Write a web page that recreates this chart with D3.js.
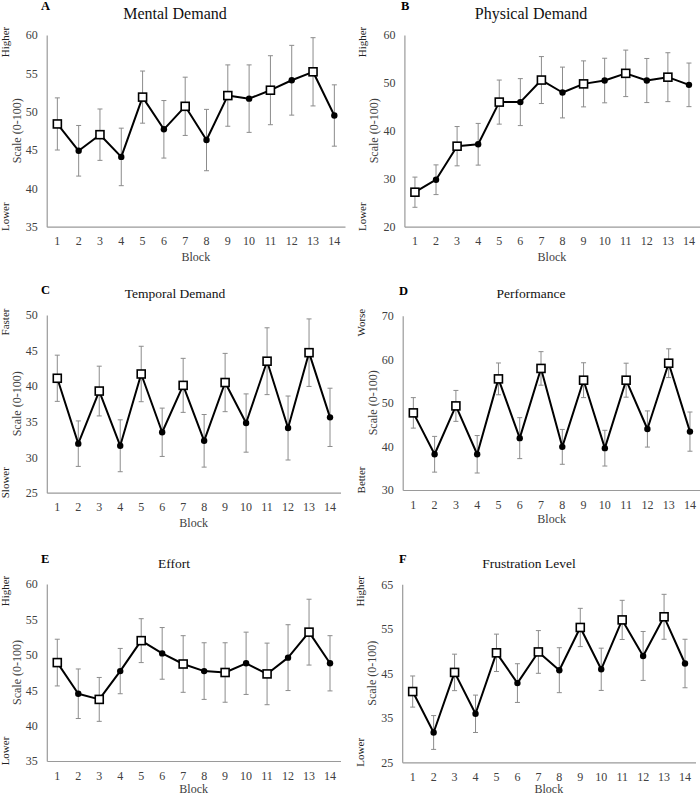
<!DOCTYPE html>
<html>
<head>
<meta charset="utf-8">
<script src="https://cdn.jsdelivr.net/npm/d3@7"></script>
<style>
  html, body { margin: 0; padding: 0; background: #fff; }
  svg { display: block; font-family: "Liberation Serif", "Times New Roman", serif; }
</style>
</head>
<body>
<svg id="chart" width="700" height="797"></svg>
<script>
// ---------- data ----------
const blocks = ["1","2","3","4","5","6","7","8","9","10","11","12","13","14"];

const mentalMean   = [48.4, 44.9, 47.0, 44.1, 51.9, 47.7, 50.7, 46.3, 52.1, 51.7, 52.8, 54.1, 55.2, 49.5];
const mentalErr    = [3.4, 3.3, 3.35, 3.75, 3.4, 3.75, 3.8, 4.0, 4.0, 4.4, 4.5, 4.55, 4.45, 4.0];

const physicalMean = [27.2, 29.8, 36.8, 37.2, 46.0, 46.0, 50.6, 48.0, 49.8, 50.5, 52.0, 50.5, 51.2, 49.6];
const physicalErr  = [3.15, 3.1, 4.1, 4.35, 4.6, 4.9, 4.9, 5.3, 4.8, 4.65, 4.85, 4.6, 5.1, 4.55];

const temporalMean = [41.1, 31.9, 39.3, 31.6, 41.7, 33.5, 40.1, 32.3, 40.5, 34.8, 43.5, 34.1, 44.7, 35.6];
const temporalErr  = [3.25, 3.2, 3.5, 3.65, 3.9, 3.4, 3.8, 3.7, 4.1, 4.1, 4.7, 4.5, 4.75, 4.1];

const performanceMean = [47.7, 38.2, 49.3, 38.2, 55.5, 41.9, 57.9, 39.9, 55.2, 39.6, 55.2, 44.0, 59.1, 43.4];
const performanceErr  = [3.5, 4.1, 3.55, 4.3, 3.65, 4.7, 3.85, 4.0, 4.0, 4.1, 3.9, 4.15, 3.3, 4.5];

const effortMean = [48.9, 44.5, 43.7, 47.7, 52.0, 50.2, 48.7, 47.7, 47.5, 48.8, 47.3, 49.6, 53.2, 48.8];
const effortErr  = [3.3, 3.5, 3.1, 3.2, 3.1, 3.65, 4.0, 4.0, 4.2, 4.4, 4.35, 4.65, 4.65, 3.9];

const frustrationMean = [40.9, 31.7, 45.2, 35.9, 49.6, 42.8, 49.8, 45.7, 55.3, 45.9, 57.0, 48.9, 57.7, 47.2];
const frustrationErr  = [3.5, 3.8, 4.1, 4.2, 4.2, 4.35, 4.8, 5.05, 4.3, 4.75, 4.4, 5.5, 5.05, 5.45];

// odd blocks drawn as open squares, even blocks as filled dots
const markerType = ["square","dot","square","dot","square","dot","square","dot","square","dot","square","dot","square","dot"];

const mentalTicks = [35, 40, 45, 50, 55, 60];
const physicalTicks = [20, 30, 40, 50, 60];
const temporalTicks = [25, 30, 35, 40, 45, 50];
const performanceTicks = [30, 40, 50, 60, 70];
const effortTicks = [35, 40, 45, 50, 55, 60];
const frustrationTicks = [25, 35, 45, 55, 65];

// ---------- panel configuration ----------
const panels = [
  { letter: "A", title: "Mental Demand", hi: "Higher", lo: "Lower", mean: mentalMean, err: mentalErr, ticks: mentalTicks,
    x0: 46.7, x1: 345, yTop: 35, yBot: 226.7, titleX: 175, titleY: 19, titleSize: 16, letterX: 41, letterY: 10, blockDy: 34 },
  { letter: "B", title: "Physical Demand", hi: "Higher", lo: "Lower", mean: physicalMean, err: physicalErr, ticks: physicalTicks,
    x0: 404.4, x1: 699.5, yTop: 35, yBot: 226.7, titleX: 531, titleY: 19, titleSize: 16, letterX: 401, letterY: 10, blockDy: 34 },
  { letter: "C", title: "Temporal Demand", hi: "Faster", lo: "Slower", mean: temporalMean, err: temporalErr, ticks: temporalTicks,
    x0: 46.8, x1: 340.5, yTop: 315, yBot: 492.7, titleX: 175, titleY: 298, titleSize: 13.5, letterX: 41, letterY: 294, blockDy: 34 },
  { letter: "D", title: "Performance", hi: "Worse", lo: "Better", mean: performanceMean, err: performanceErr, ticks: performanceTicks,
    x0: 402.7, x1: 700.6, yTop: 315.7, yBot: 490, titleX: 531, titleY: 298, titleSize: 13.5, letterX: 399, letterY: 295, blockDy: 33 },
  { letter: "E", title: "Effort", hi: "Higher", lo: "Lower", mean: effortMean, err: effortErr, ticks: effortTicks,
    x0: 46.8, x1: 340.5, yTop: 584, yBot: 761, titleX: 174, titleY: 568, titleSize: 13.5, letterX: 41, letterY: 563, blockDy: 32 },
  { letter: "F", title: "Frustration Level", hi: "Higher", lo: "Lower", mean: frustrationMean, err: frustrationErr, ticks: frustrationTicks,
    x0: 402.2, x1: 695.5, yTop: 584.3, yBot: 762.3, titleX: 529, titleY: 568, titleSize: 13.5, letterX: 399, letterY: 563, blockDy: 31 }
];

const svg = d3.select("#chart");
const axisColor = "#9a9a9a";
const errColor = "#8c8c8c";
const textColor = "#404040";

panels.forEach(p => {
  const g = svg.append("g");
  const x = d3.scaleBand().domain(blocks).range([p.x0, p.x1]).padding(0);
  const y = d3.scaleLinear().domain([d3.min(p.ticks), d3.max(p.ticks)]).range([p.yBot, p.yTop]);
  const data = blocks.map((b, i) => ({ b, m: p.mean[i], e: p.err[i], t: markerType[i] }));
  const cx = d => x(d.b) + x.bandwidth() / 2;

  // y axis
  const yAxis = d3.axisLeft(y).tickValues(p.ticks).tickSize(0).tickPadding(9).tickFormat(d3.format("d"));
  const ya = g.append("g").attr("transform", `translate(${p.x0},0)`).call(yAxis);
  ya.attr("font-family", null);
  ya.select(".domain").attr("stroke", axisColor).attr("stroke-width", 1.2);
  ya.selectAll("text").attr("fill", textColor).style("font-size", "12px").style("font-family", "Liberation Serif");

  // x axis
  const xAxis = d3.axisBottom(x).tickSize(0).tickPadding(10);
  const xa = g.append("g").attr("transform", `translate(0,${p.yBot})`).call(xAxis);
  xa.attr("font-family", null);
  xa.select(".domain").attr("stroke", axisColor).attr("stroke-width", 1.2);
  xa.selectAll("text").attr("fill", textColor).style("font-size", "12px").style("font-family", "Liberation Serif");

  // axis titles
  g.append("text").attr("x", (p.x0 + p.x1) / 2).attr("y", p.yBot + p.blockDy)
    .attr("text-anchor", "middle").attr("fill", textColor).style("font-size", "12px").text("Block");
  g.append("text")
    .attr("transform", `translate(${p.x0 - 26},${(p.yTop + p.yBot) / 2}) rotate(-90)`)
    .attr("text-anchor", "middle").attr("fill", textColor).style("font-size", "12px").text("Scale (0-100)");
  g.append("text")
    .attr("transform", `translate(${p.x0 - 38},${p.yTop + 7}) rotate(-90)`)
    .attr("text-anchor", "middle").attr("fill", "#222").style("font-size", "11px").text(p.hi);
  g.append("text")
    .attr("transform", `translate(${p.x0 - 38},${p.yBot - 10}) rotate(-90)`)
    .attr("text-anchor", "middle").attr("fill", "#222").style("font-size", "11px").text(p.lo);

  // titles
  g.append("text").attr("x", p.titleX).attr("y", p.titleY).attr("text-anchor", "middle")
    .attr("fill", "#111").style("font-size", p.titleSize + "px").text(p.title);
  g.append("text").attr("x", p.letterX).attr("y", p.letterY)
    .attr("fill", "#000").style("font-size", "12.5px").style("font-weight", "bold").text(p.letter);

  // error bars
  const eb = g.append("g").attr("stroke", errColor).attr("stroke-width", 1);
  eb.selectAll("line.v").data(data).join("line").attr("class", "v")
    .attr("x1", cx).attr("x2", cx).attr("y1", d => y(d.m + d.e)).attr("y2", d => y(d.m - d.e));
  eb.selectAll("line.t").data(data).join("line").attr("class", "t")
    .attr("x1", d => cx(d) - 2.5).attr("x2", d => cx(d) + 2.5).attr("y1", d => y(d.m + d.e)).attr("y2", d => y(d.m + d.e));
  eb.selectAll("line.b").data(data).join("line").attr("class", "b")
    .attr("x1", d => cx(d) - 2.5).attr("x2", d => cx(d) + 2.5).attr("y1", d => y(d.m - d.e)).attr("y2", d => y(d.m - d.e));

  // line
  const line = d3.line().x(cx).y(d => y(d.m));
  g.append("path").datum(data).attr("d", line).attr("fill", "none")
    .attr("stroke", "#000").attr("stroke-width", 2).attr("stroke-linejoin", "round");

  // markers
  const s = 8;
  g.selectAll("rect.mk").data(data.filter(d => d.t === "square")).join("rect").attr("class", "mk")
    .attr("x", d => cx(d) - s / 2).attr("y", d => y(d.m) - s / 2).attr("width", s).attr("height", s)
    .attr("fill", "#fff").attr("stroke", "#000").attr("stroke-width", 1.6);
  g.selectAll("circle.mk").data(data.filter(d => d.t === "dot")).join("circle").attr("class", "mk")
    .attr("cx", cx).attr("cy", d => y(d.m)).attr("r", 3.2).attr("fill", "#000");
});
</script>
</body>
</html>
